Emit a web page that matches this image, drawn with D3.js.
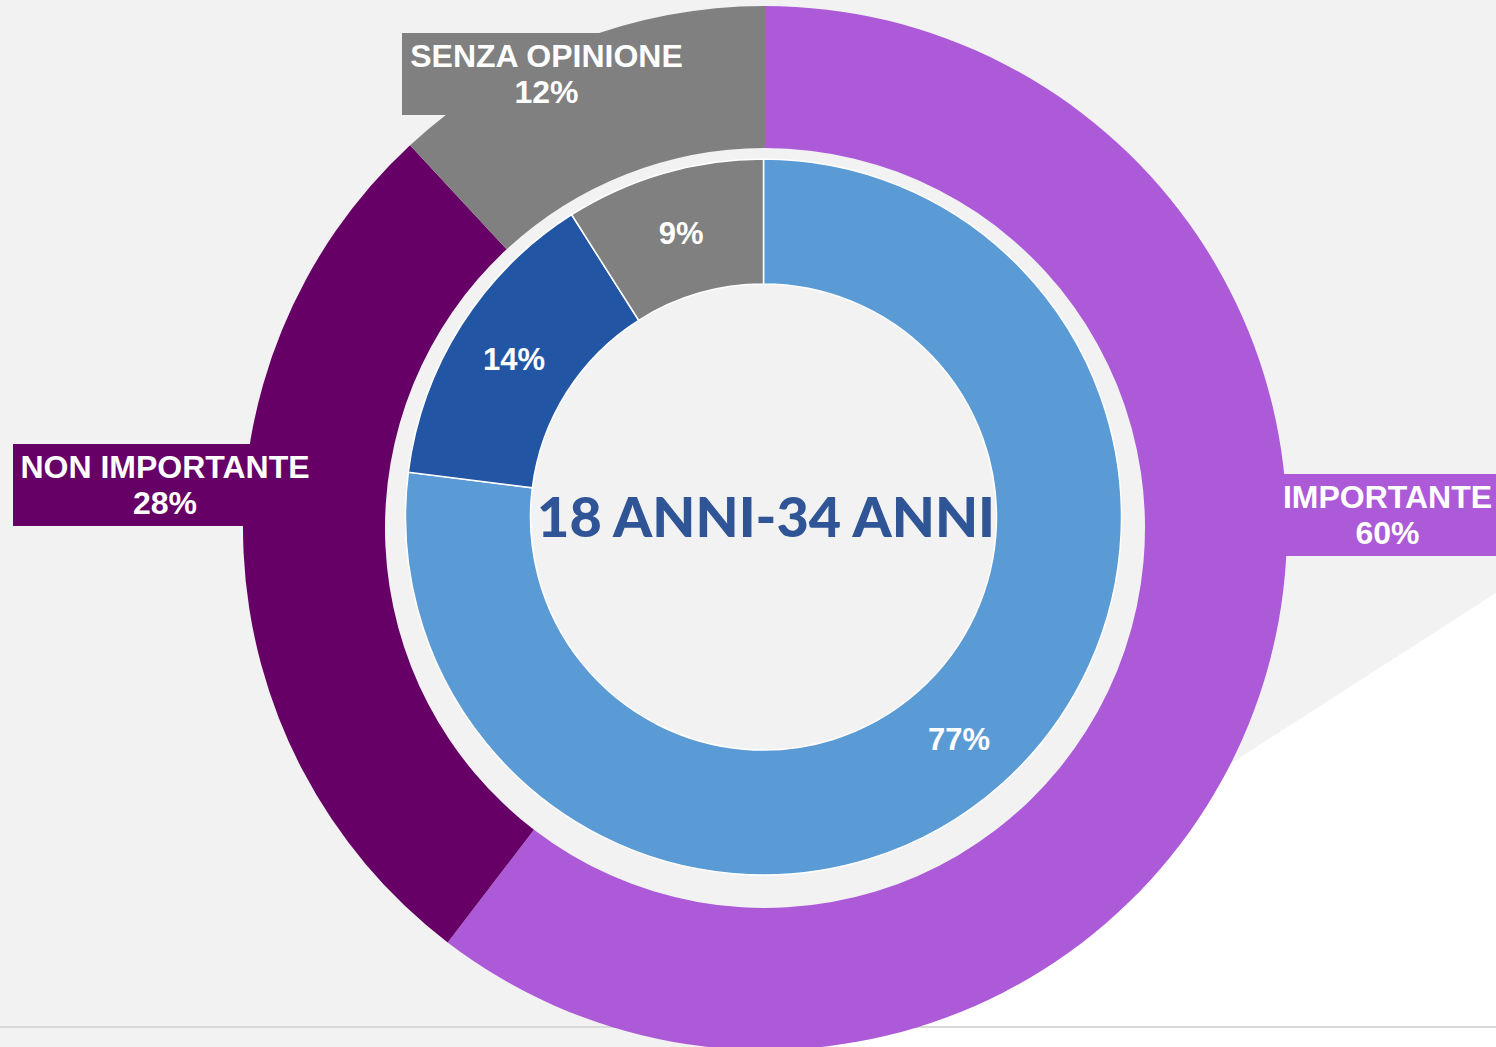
<!DOCTYPE html>
<html>
<head>
<meta charset="utf-8">
<script src="https://cdn.jsdelivr.net/npm/d3@7"></script>
<style>
  html, body { margin: 0; padding: 0; background: #f2f2f2; overflow: hidden; }
  svg { display: block; }
</style>
</head>
<body>
<svg id="chart" width="1496" height="1047"></svg>
<script>
// ---- data ----
const outerCategories = ["IMPORTANTE", "NON IMPORTANTE", "SENZA OPINIONE"];
const outerValues = [60.4, 27.7, 11.9];   // shares read from the ring (labels show rounded values)
const innerCategories = ["IMPORTANTE", "NON IMPORTANTE", "SENZA OPINIONE"];
const innerValues = [77, 14, 9];
const centerTitle = "18 ANNI-34 ANNI";

// ---- styles / layout ----
const outerColors = ["#ad5ad9", "#660066", "#808080"];
const innerColors = ["#5b9bd5", "#2255a4", "#808080"];
const W = 1496, H = 1047;
const outerCenter = [765, 528], outerR = 522, outerr = 380;
const innerCenter = [763.5, 517], innerR = 358, innerr = 233;
// outer label boxes placed like the reference
const outerLabelBoxes = [
  { x: 1276, y: 474, w: 230, h: 82, cx: 1387.5 },
  { x: 13,   y: 444, w: 304, h: 82, cx: 165 },
  { x: 402,  y: 33,  w: 289, h: 82, cx: 546.5 }
];

const svg = d3.select("#chart");
svg.append("rect").attr("width", W).attr("height", H).attr("fill", "#f2f2f2");
// white corner shape bottom right
svg.append("path")
  .attr("d", d3.line()([[1496, 593], [1496, 1047], [790, 1047]]) + "Z")
  .attr("fill", "#ffffff");
svg.append("line")
  .attr("x1", 0).attr("x2", W).attr("y1", 1027).attr("y2", 1027)
  .attr("stroke", "#d9d9d9").attr("stroke-width", 2);

const pie = d3.pie().sort(null).value(d => d);

// outer ring
const outerArc = d3.arc().innerRadius(outerr).outerRadius(outerR);
const gOuter = svg.append("g").attr("transform", `translate(${outerCenter})`);
gOuter.selectAll("path").data(pie(outerValues)).join("path")
  .attr("d", outerArc)
  .attr("fill", (d, i) => outerColors[i]);

// center title (behind inner ring)
svg.append("text")
  .attr("x", 766).attr("y", 537)
  .attr("text-anchor", "middle")
  .attr("font-family", "Lato, 'Open Sans', sans-serif")
  .attr("font-weight", 900)
  .attr("font-size", 56)
  .attr("fill", "#2f5597")
  .attr("textLength", 458)
  .attr("lengthAdjust", "spacingAndGlyphs")
  .text(centerTitle);

// inner ring
const innerArc = d3.arc().innerRadius(innerr).outerRadius(innerR);
const gInner = svg.append("g").attr("transform", `translate(${innerCenter})`);
const innerPie = pie(innerValues);
gInner.selectAll("path").data(innerPie).join("path")
  .attr("d", innerArc)
  .attr("fill", (d, i) => innerColors[i])
  .attr("stroke", "#ffffff")
  .attr("stroke-width", 1.5);
gInner.selectAll("text").data(innerPie).join("text")
  .attr("transform", d => `translate(${innerArc.centroid(d)})`)
  .attr("text-anchor", "middle")
  .attr("dy", "0.36em")
  .attr("font-family", "'Liberation Sans', Arial, sans-serif")
  .attr("font-weight", 700)
  .attr("font-size", 31)
  .attr("fill", "#ffffff")
  .text(d => d.data + "%");

// outer labels
const labels = svg.append("g");
outerCategories.forEach((c, i) => {
  const b = outerLabelBoxes[i];
  labels.append("rect").attr("x", b.x).attr("y", b.y).attr("width", b.w).attr("height", b.h)
    .attr("fill", outerColors[i]);
  const t = labels.append("text")
    .attr("text-anchor", "middle")
    .attr("font-family", "'Liberation Sans', Arial, sans-serif")
    .attr("font-weight", 700)
    .attr("font-size", 32)
    .attr("fill", "#ffffff");
  t.append("tspan").attr("x", b.cx).attr("y", b.y + 34).text(c);
  t.append("tspan").attr("x", b.cx).attr("y", b.y + 70).text(Math.round(outerValues[i]) + "%");
});
</script>
</body>
</html>
